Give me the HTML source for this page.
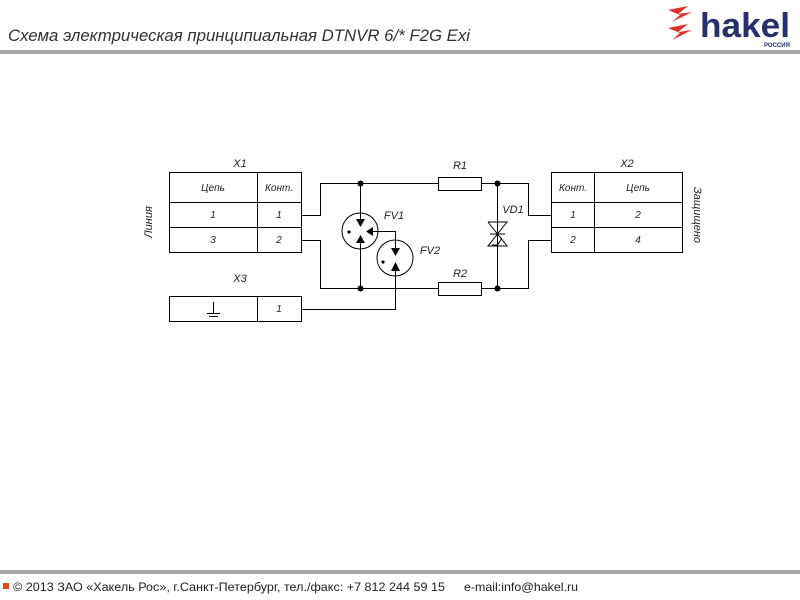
<!DOCTYPE html>
<html><head><meta charset="utf-8"><style>
body{margin:0;width:800px;height:600px;background:#fff;overflow:hidden;position:relative;font-family:"Liberation Sans","DejaVu Sans",sans-serif}
</style></head><body>
<svg width="800" height="600" style="position:absolute;left:0;top:0" font-family="Liberation Sans, DejaVu Sans, sans-serif">
<text x="8" y="41" font-size="17" font-style="italic" fill="#333" textLength="462" lengthAdjust="spacingAndGlyphs">Схема электрическая принципиальная DTNVR 6/* F2G Exi</text>
<rect x="0" y="50" width="800" height="4" fill="#a8a8a8"/>
<polygon points="668,10 688,6 678,14 692,12 672,22 680,15" fill="#e0302a"/>
<polygon points="668,28 688,24 678,32 692,30 672,40 680,33" fill="#e0302a"/>
<text x="700" y="37" font-size="34" font-weight="bold" fill="#27306b" textLength="90" lengthAdjust="spacingAndGlyphs">hakel</text>
<text x="764" y="47" font-size="6" font-weight="bold" fill="#27306b">РОССИЯ</text>
<rect x="0" y="570" width="800" height="4" fill="#a8a8a8"/>
<rect x="3" y="583" width="6" height="6" fill="#e04a1a"/>
<text x="13" y="591" font-size="12" fill="#222" textLength="432" lengthAdjust="spacingAndGlyphs">© 2013 ЗАО «Хакель Рос», г.Санкт-Петербург, тел./факс: +7 812 244 59 15</text>
<text x="464" y="591" font-size="12" fill="#222" textLength="114" lengthAdjust="spacingAndGlyphs">e-mail:info@hakel.ru</text>
<g stroke="#000" stroke-width="1" fill="none">
<rect x="169.5" y="172.5" width="132" height="80"/>
<line x1="169" y1="202.5" x2="301" y2="202.5"/><line x1="169" y1="227.5" x2="301" y2="227.5"/>
<line x1="257.5" y1="172" x2="257.5" y2="252"/>
<rect x="169.5" y="296.5" width="132" height="25"/><line x1="257.5" y1="296" x2="257.5" y2="321"/>
<rect x="551.5" y="172.5" width="131" height="80"/>
<line x1="551" y1="202.5" x2="682" y2="202.5"/><line x1="551" y1="227.5" x2="682" y2="227.5"/>
<line x1="594.5" y1="172" x2="594.5" y2="252"/>
<polyline points="301,215.5 320.5,215.5 320.5,183.5 438,183.5"/>
<polyline points="481,183.5 528.5,183.5 528.5,215.5 551,215.5"/>
<polyline points="301,240.5 320.5,240.5 320.5,288.5 438,288.5"/>
<polyline points="481,288.5 528.5,288.5 528.5,240.5 551,240.5"/>
<rect x="438.5" y="177.5" width="43" height="13"/>
<rect x="438.5" y="282.5" width="43" height="13"/>
<line x1="497.5" y1="183" x2="497.5" y2="288"/>
<circle cx="360" cy="231" r="18"/><circle cx="395" cy="258" r="18"/>
<line x1="360.5" y1="183" x2="360.5" y2="222"/><line x1="360.5" y1="288" x2="360.5" y2="240"/>
<polyline points="370,231.5 395.5,231.5 395.5,250"/>
<polyline points="301,309.5 395.5,309.5 395.5,266"/>
<polyline points="492,245 497.5,245 502,238"/>
<polyline points="488,222 507,222 497.5,234 488,246 507,246 497.5,234 488,222"/>
<polyline points="490,234 505,234"/>
</g>
<g fill="#000">
<circle cx="360.5" cy="183.5" r="3"/><circle cx="360.5" cy="288.5" r="3"/>
<circle cx="497.5" cy="183.5" r="3"/><circle cx="497.5" cy="288.5" r="3"/>
<polygon points="356,219 365,219 360.5,227"/><polygon points="356,243 365,243 360.5,235"/>
<polygon points="366,231.5 373,227 373,236"/>
<polygon points="391,248 400,248 395.5,256"/><polygon points="391,271 400,271 395.5,262"/>
<circle cx="349" cy="232" r="1.6"/><circle cx="383" cy="262" r="1.6"/>
</g>
<line x1="213.5" y1="302" x2="213.5" y2="313" stroke="#000"/>
<line x1="207" y1="313.5" x2="220" y2="313.5" stroke="#000"/>
<line x1="209" y1="316.5" x2="218" y2="316.5" stroke="#000"/>
<g font-size="10" font-style="italic" fill="#222" text-anchor="middle">
<text x="213" y="191">Цепь</text><text x="279" y="191">Конт.</text>
<text x="213" y="218">1</text><text x="279" y="218">1</text>
<text x="213" y="243">3</text><text x="279" y="243">2</text>
<text x="279" y="312">1</text>
<text x="573" y="191">Конт.</text><text x="638" y="191">Цепь</text>
<text x="573" y="218">1</text><text x="638" y="218">2</text>
<text x="573" y="243">2</text><text x="638" y="243">4</text>
<text x="240" y="167" font-size="11">X1</text><text x="240" y="282" font-size="11">X3</text>
<text x="627" y="167" font-size="11">X2</text>
<text x="460" y="169" font-size="11">R1</text><text x="460" y="277" font-size="11">R2</text>
<text x="394" y="219" font-size="11">FV1</text><text x="430" y="254" font-size="11">FV2</text>
<text x="513" y="213" font-size="11">VD1</text>
<text transform="translate(152,222) rotate(-90)" font-size="11">Линия</text>
<text transform="translate(694,215) rotate(90)" font-size="11">Защищено</text>
</g>
</svg>
</body></html>
